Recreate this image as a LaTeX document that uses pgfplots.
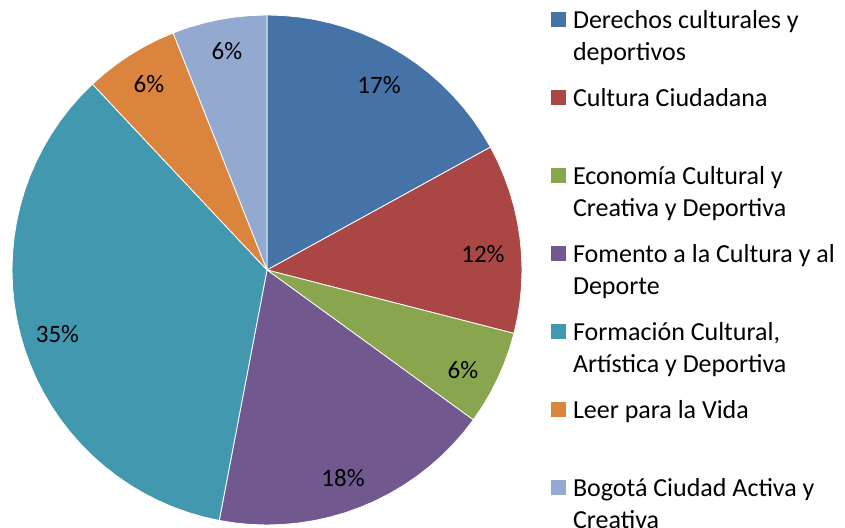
\documentclass[border=0pt]{standalone}
\usepackage{pgfplots}
\pgfplotsset{compat=1.18}
\usepackage{fontspec}
\setmainfont{Carlito}
\definecolor{c1}{HTML}{4572A7}
\definecolor{c2}{HTML}{AA4643}
\definecolor{c3}{HTML}{89A54E}
\definecolor{c4}{HTML}{71588F}
\definecolor{c5}{HTML}{4198AF}
\definecolor{c6}{HTML}{DB843D}
\definecolor{c7}{HTML}{93A9CF}
\newcommand{\entry}[1]{\parbox[t]{140pt}{\fontsize{13}{16}\selectfont #1}}
\begin{document}
\begin{tikzpicture}
\begin{axis}[
  name=ax,
  x=0.5pt, y=0.5pt,
  xmin=-267, xmax=578, ymin=-258, ymax=270,
  hide axis, clip=false,
  data cs=polar,
  legend image code/.code={\fill[#1,draw=none] (0pt,0.5pt) rectangle (7.5pt,8pt);},
  legend style={at={(axis description cs:0.6521,0.9848)}, anchor=north west,
    draw=none, fill=none, inner sep=0pt, outer sep=0pt,
    row sep=0pt, column sep=3.5pt,
    nodes={inner sep=0pt, outer sep=0pt, text height=10pt, text depth=29pt},
    cells={anchor=base west}},
  sector/.style={fill=#1, draw=white, line width=0.4pt},
]
% shares (%): 17, 12, 6, 18, 35, 6, 6 -- sectors drawn clockwise from the top
\addplot[sector=c1] coordinates {(0,0) (90,255) (86.4,255) (82.8,255) (79.2,255) (75.6,255) (72,255) (68.4,255) (64.8,255) (61.2,255) (57.6,255) (54,255) (50.4,255) (46.8,255) (43.2,255) (39.6,255) (36,255) (32.4,255) (28.8,255) (0,0)};
\addlegendentry{\entry{Derechos culturales y\\deportivos}}
\addplot[sector=c2] coordinates {(0,0) (28.8,255) (25.2,255) (21.6,255) (18,255) (14.4,255) (10.8,255) (7.2,255) (3.6,255) (0,255) (-3.6,255) (-7.2,255) (-10.8,255) (-14.4,255) (0,0)};
\addlegendentry{\entry{Cultura Ciudadana}}
\addplot[sector=c3] coordinates {(0,0) (-14.4,255) (-18,255) (-21.6,255) (-25.2,255) (-28.8,255) (-32.4,255) (-36,255) (0,0)};
\addlegendentry{\entry{Economía Cultural y\\Creativa y Deportiva}}
\addplot[sector=c4] coordinates {(0,0) (-36,255) (-39.6,255) (-43.2,255) (-46.8,255) (-50.4,255) (-54,255) (-57.6,255) (-61.2,255) (-64.8,255) (-68.4,255) (-72,255) (-75.6,255) (-79.2,255) (-82.8,255) (-86.4,255) (-90,255) (-93.6,255) (-97.2,255) (-100.8,255) (0,0)};
\addlegendentry{\entry{Fomento a la Cultura y al\\Deporte}}
\addplot[sector=c5] coordinates {(0,0) (-100.8,255) (-104.4,255) (-108,255) (-111.6,255) (-115.2,255) (-118.8,255) (-122.4,255) (-126,255) (-129.6,255) (-133.2,255) (-136.8,255) (-140.4,255) (-144,255) (-147.6,255) (-151.2,255) (-154.8,255) (-158.4,255) (-162,255) (-165.6,255) (-169.2,255) (-172.8,255) (-176.4,255) (-180,255) (-183.6,255) (-187.2,255) (-190.8,255) (-194.4,255) (-198,255) (-201.6,255) (-205.2,255) (-208.8,255) (-212.4,255) (-216,255) (-219.6,255) (-223.2,255) (-226.8,255) (0,0)};
\addlegendentry{\entry{Formación Cultural,\\Artística y Deportiva}}
\addplot[sector=c6] coordinates {(0,0) (-226.8,255) (-230.4,255) (-234,255) (-237.6,255) (-241.2,255) (-244.8,255) (-248.4,255) (0,0)};
\addlegendentry{\entry{Leer para la Vida}}
\addplot[sector=c7] coordinates {(0,0) (-248.4,255) (-252,255) (-255.6,255) (-259.2,255) (-262.8,255) (-266.4,255) (-270,255) (0,0)};
\addlegendentry{\entry{Bogotá Ciudad Activa y\\Creativa}}
% data labels (angle, radius)
\addplot[forget plot, only marks, mark=*, mark size=0pt, mark options={draw=none, fill=none},
  nodes near coords, point meta=explicit symbolic,
  nodes near coords style={anchor=center, inner sep=0pt, font=\fontsize{12.5}{15}\selectfont, text=black}]
  coordinates {
  (58.8,216.3) [17\%]
  (4.24,216.6) [12\%]
  (-27.03,220.0) [6\%]
  (-69.93,221.5) [18\%]
  (-163.0,219.1) [35\%]
  (122.39,220.3) [6\%]
  (100.35,222.6) [6\%]
  };
\end{axis}
\pgfresetboundingbox
\path[use as bounding box] (ax.south west) rectangle (ax.north east);
\end{tikzpicture}
\end{document}
